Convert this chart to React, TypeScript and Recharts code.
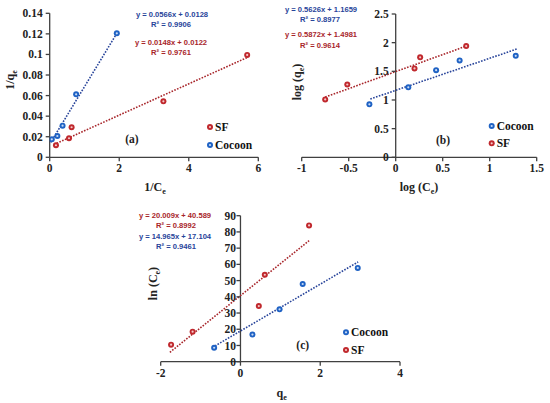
import React from 'react'
import { ScatterChart, Scatter, XAxis, YAxis, ReferenceLine } from 'recharts'

interface Pt {
  x: number;
  y: number;
}

// (a) 1/qe vs 1/Ce
const cocoonA: Pt[] = [
  { x: 0.06, y: 0.0175 },
  { x: 0.22, y: 0.0207 },
  { x: 0.37, y: 0.0307 },
  { x: 0.76, y: 0.0612 },
  { x: 1.93, y: 0.1205 },
]
const sfA: Pt[] = [
  { x: 0.18, y: 0.0117 },
  { x: 0.555, y: 0.0185 },
  { x: 0.63, y: 0.0292 },
  { x: 3.27, y: 0.0544 },
  { x: 5.68, y: 0.0995 },
]
const cocoonFitA: Pt[] = [{ x: 0.03, y: 0.0145 }, { x: 1.93, y: 0.1205 }]
const sfFitA: Pt[] = [{ x: 0.2, y: 0.0136 }, { x: 5.68, y: 0.097 }]
const xTicksA = [0, 2, 4, 6]
const yTicksA = [0, 0.02, 0.04, 0.06, 0.08, 0.1, 0.12, 0.14]

// (b) log qe vs log Ce
const cocoonB: Pt[] = [
  { x: -0.28, y: 0.925 },
  { x: 0.134, y: 1.22 },
  { x: 0.43, y: 1.52 },
  { x: 0.68, y: 1.69 },
  { x: 1.277, y: 1.77 },
]
const sfB: Pt[] = [
  { x: -0.75, y: 1.01 },
  { x: -0.515, y: 1.27 },
  { x: 0.2, y: 1.55 },
  { x: 0.26, y: 1.745 },
  { x: 0.75, y: 1.94 },
]
const cocoonFitB: Pt[] = [{ x: -0.27, y: 1.017 }, { x: 1.29, y: 1.89 }]
const sfFitB: Pt[] = [{ x: -0.75, y: 1.05 }, { x: 0.75, y: 1.94 }]
const xTicksB = [-1, -0.5, 0, 0.5, 1, 1.5]
const yTicksB = [0, 0.5, 1, 1.5, 2, 2.5]

// (c) ln Ce vs qe
const sfC: Pt[] = [
  { x: -1.74, y: 10.5 },
  { x: -1.2, y: 18.5 },
  { x: 0.46, y: 34.3 },
  { x: 0.61, y: 53.6 },
  { x: 1.72, y: 84 },
]
const cocoonC: Pt[] = [
  { x: -0.66, y: 8.6 },
  { x: 0.3, y: 16.7 },
  { x: 0.98, y: 32.3 },
  { x: 1.56, y: 47.9 },
  { x: 2.94, y: 57.8 },
]
const sfFitC: Pt[] = [{ x: -1.77, y: 5.8 }, { x: 1.72, y: 74.6 }]
const cocoonFitC: Pt[] = [{ x: -0.64, y: 9.7 }, { x: 2.95, y: 61.5 }]
const xTicksC = [-2, 0, 2, 4]
const yTicksC = [0, 10, 20, 30, 40, 50, 60, 70, 80, 90]

const BLUE = '#1f62c4'
const RED = '#c0282d'
const BLUE_LINE = '#28449a'
const RED_LINE = '#a8262b'
const AXIS = '#404040'
const SERIF = "'Liberation Serif', 'Times New Roman', serif"
const SANS = "'Liberation Sans', Arial, sans-serif"

const W = 550
const H = 403

const Marker = ({ cx, cy, color, light }: any) => (
  <g>
    <circle cx={cx} cy={cy} r={3} fill={color} />
    <circle cx={cx} cy={cy} r={1.1} fill={light} />
  </g>
)

const YTick = ({ x, y, payload, shift, gap }: any) => (
  <g>
    <line x1={x + shift - 4} x2={x + shift} y1={y} y2={y} stroke={AXIS} strokeWidth={1.3} />
    <text
      x={x + shift - gap}
      y={y}
      dy="0.35em"
      textAnchor="end"
      fontFamily={SERIF}
      fontWeight="bold"
      fontSize={11.5}
      fill="#222"
    >
      {payload.value}
    </text>
  </g>
)

interface PanelProps {
  plot: [number, number, number, number];
  xDomain: [number, number];
  yDomain: [number, number];
  xTicks: number[];
  yTicks: number[];
  series: { data: Pt[]; color: string; light: string }[];
  fits: { data: Pt[]; color: string }[];
  gap: number;
}

const Panel: React.FC<PanelProps> = ({ plot, xDomain, yDomain, xTicks, yTicks, series, fits, gap }) => {
  const [l, t, r, b] = plot
  const shift = ((r - l) * (0 - xDomain[0])) / (xDomain[1] - xDomain[0])
  return (
    <div style={{ position: 'absolute', left: 0, top: 0 }}>
      <ScatterChart width={W} height={H} margin={{ left: l - 40, top: t, right: W - r, bottom: H - b - 30 }}>
        <XAxis
          type="number"
          dataKey="x"
          domain={xDomain}
          ticks={xTicks}
          interval={0}
          height={30}
          tickSize={4}
          tickMargin={3}
          axisLine={{ stroke: AXIS, strokeWidth: 1.3 }}
          tickLine={{ stroke: AXIS, strokeWidth: 1.3 }}
          tick={{ fill: '#222', fontFamily: SERIF, fontWeight: 'bold', fontSize: 11.5 }}
          allowDataOverflow
        />
        <YAxis
          type="number"
          dataKey="y"
          domain={yDomain}
          ticks={yTicks}
          interval={0}
          width={40}
          axisLine={false}
          tickLine={false}
          tickSize={0}
          tickMargin={0}
          tick={(p: any) => <YTick {...p} shift={shift} gap={gap} />}
          allowDataOverflow
        />
        <ReferenceLine x={0} stroke={AXIS} strokeWidth={1.3} />
        {fits.map((f, i) => (
          <Scatter
            key={`fit-${i}`}
            data={f.data}
            line={{ stroke: f.color, strokeWidth: 1.6, strokeDasharray: '1.6 1.4' }}
            shape={() => <g />}
            legendType="none"
            isAnimationActive={false}
          />
        ))}
        {series.map((s, i) => (
          <Scatter
            key={`pts-${i}`}
            data={s.data}
            shape={(p: any) => <Marker cx={p.cx} cy={p.cy} color={s.color} light={s.light} />}
            isAnimationActive={false}
          />
        ))}
      </ScatterChart>
    </div>
  )
}

const LIGHT_BLUE = '#c9dbf5'
const LIGHT_RED = '#f4c9c9'

const Eq = ({ x, y, color, children }: any) => (
  <text x={x} y={y} dy="0.35em" textAnchor="middle" fontFamily={SANS} fontWeight="bold" fontSize={7.6} fill={color}>
    {children}
  </text>
)

const LegendItem = ({ x, y, color, light, label }: any) => (
  <g>
    <Marker cx={x} cy={y} color={color} light={light} />
    <text x={x + 5} y={y} dy="0.35em" fontFamily={SERIF} fontWeight="bold" fontSize={11.5} fill="#111">
      {label}
    </text>
  </g>
)

const Title = ({ x, y, main, sub, tail, rotate }: any) => (
  <text
    x={x}
    y={y}
    dy="0.35em"
    textAnchor="middle"
    fontFamily={SERIF}
    fontWeight="bold"
    fontSize={12}
    fill="#222"
    transform={rotate ? `rotate(-90 ${x} ${y})` : undefined}
  >
    <tspan>{main}</tspan>
    <tspan fontSize={8} dy={3}>{sub}</tspan>
    {tail ? <tspan dy={-3}>{tail}</tspan> : null}
  </text>
)

const App: React.FC = () => {
  return (
    <div style={{ position: 'absolute', left: 0, top: 0, width: W, height: H, background: '#fff' }}>
      <Panel
        plot={[49.7, 13.3, 258.3, 157.3]}
        xDomain={[0, 6]}
        yDomain={[0, 0.14]}
        xTicks={xTicksA}
        yTicks={yTicksA}
        fits={[
          { data: cocoonFitA, color: BLUE_LINE },
          { data: sfFitA, color: RED_LINE },
        ]}
        series={[
          { data: sfA, color: RED, light: LIGHT_RED },
          { data: cocoonA, color: BLUE, light: LIGHT_BLUE },
        ]}
        gap={7}
      />
      <Panel
        plot={[301.7, 14, 536.7, 157.3]}
        xDomain={[-1, 1.5]}
        yDomain={[0, 2.5]}
        xTicks={xTicksB}
        yTicks={yTicksB}
        fits={[
          { data: cocoonFitB, color: BLUE_LINE },
          { data: sfFitB, color: RED_LINE },
        ]}
        series={[
          { data: cocoonB, color: BLUE, light: LIGHT_BLUE },
          { data: sfB, color: RED, light: LIGHT_RED },
        ]}
        gap={7}
      />
      <Panel
        plot={[160.7, 215.7, 400, 361.7]}
        xDomain={[-2, 4]}
        yDomain={[0, 90]}
        xTicks={xTicksC}
        yTicks={yTicksC}
        fits={[
          { data: cocoonFitC, color: BLUE_LINE },
          { data: sfFitC, color: RED_LINE },
        ]}
        series={[
          { data: cocoonC, color: BLUE, light: LIGHT_BLUE },
          { data: sfC, color: RED, light: LIGHT_RED },
        ]}
        gap={4.5}
      />
      <svg width={W} height={H} style={{ position: 'absolute', left: 0, top: 0, pointerEvents: 'none' }}>
        {/* (a) */}
        <Eq x={172} y={14.3} color={BLUE_LINE}>y = 0.0566x + 0.0128</Eq>
        <Eq x={171} y={24.3} color={BLUE_LINE}>R² = 0.9906</Eq>
        <Eq x={171} y={42} color={RED_LINE}>y = 0.0148x + 0.0122</Eq>
        <Eq x={171} y={52} color={RED_LINE}>R² = 0.9761</Eq>
        <LegendItem x={210} y={127} color={RED} light={LIGHT_RED} label="SF" />
        <LegendItem x={210} y={145} color={BLUE} light={LIGHT_BLUE} label="Cocoon" />
        <text x={132} y={139} dy="0.35em" textAnchor="middle" fontFamily={SERIF} fontWeight="bold" fontSize={11.5} fill="#222">(a)</text>
        <Title x={155} y={187} main="1/C" sub="e" />
        <Title x={10} y={80} main="1/q" sub="e" rotate />

        {/* (b) */}
        <Eq x={321} y={9.3} color={BLUE_LINE}>y = 0.5626x + 1.1659</Eq>
        <Eq x={320} y={19.3} color={BLUE_LINE}>R² = 0.8977</Eq>
        <Eq x={321} y={34.3} color={RED_LINE}>y = 0.5872x + 1.4981</Eq>
        <Eq x={320} y={45} color={RED_LINE}>R² = 0.9614</Eq>
        <LegendItem x={491.7} y={126} color={BLUE} light={LIGHT_BLUE} label="Cocoon" />
        <LegendItem x={491.7} y={143.3} color={RED} light={LIGHT_RED} label="SF" />
        <text x={443} y={140} dy="0.35em" textAnchor="middle" fontFamily={SERIF} fontWeight="bold" fontSize={11.5} fill="#222">(b)</text>
        <Title x={419} y={187} main="log (C" sub="e" tail=")" />
        <Title x={297} y={82} main="log (q" sub="e" tail=")" rotate />

        {/* (c) */}
        <Eq x={175} y={215} color={RED_LINE}>y = 20.009x + 40.589</Eq>
        <Eq x={176} y={225} color={RED_LINE}>R² = 0.8992</Eq>
        <Eq x={175} y={236} color={BLUE_LINE}>y = 14.965x + 17.104</Eq>
        <Eq x={176} y={246.7} color={BLUE_LINE}>R² = 0.9461</Eq>
        <LegendItem x={346} y={332.3} color={BLUE} light={LIGHT_BLUE} label="Cocoon" />
        <LegendItem x={346} y={350} color={RED} light={LIGHT_RED} label="SF" />
        <text x={302.7} y={345} dy="0.35em" textAnchor="middle" fontFamily={SERIF} fontWeight="bold" fontSize={11.5} fill="#222">(c)</text>
        <Title x={281.7} y={392.7} main="q" sub="e" />
        <Title x={153} y={283.5} main="ln (C" sub="e" tail=")" rotate />
      </svg>
    </div>
  )
}

export default App
